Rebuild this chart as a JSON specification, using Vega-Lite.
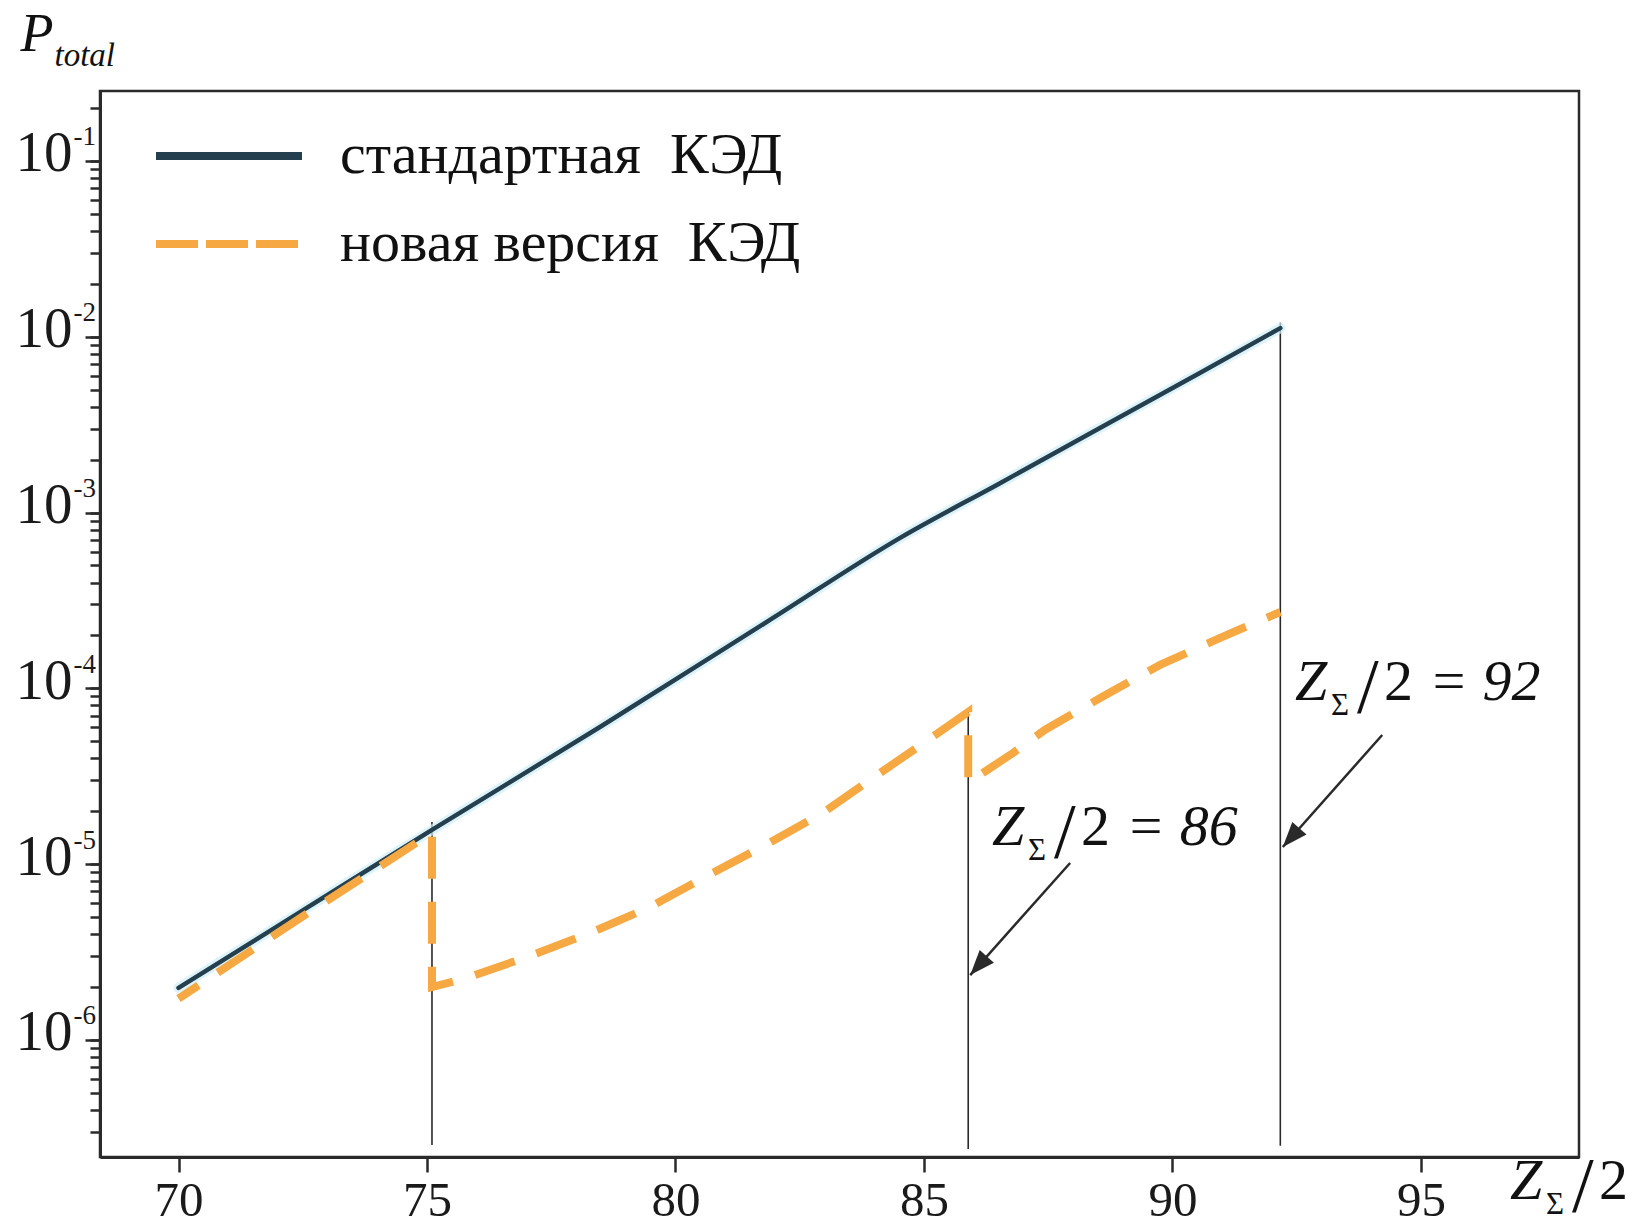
{
  "$schema": "https://vega.github.io/schema/vega-lite/v6.json",
  "width": 1479,
  "height": 1066,
  "autosize": "none",
  "padding": {"left": 100, "top": 91, "right": 54, "bottom": 75},
  "background": "white",
  "config": {
    "view": {"stroke": "#2a2a2a", "strokeWidth": 2.5},
    "font": "Liberation Serif"
  },
  "resolve": {"axis": {"y": "independent"}},
  "datasets": {
    "curves": [
      {"s": "стандартная КЭД", "i": 0, "x": 70.0, "y": 1.98e-6},
      {"s": "стандартная КЭД", "i": 1, "x": 72.5, "y": 5.46e-6},
      {"s": "стандартная КЭД", "i": 2, "x": 75.1, "y": 1.566e-5},
      {"s": "стандартная КЭД", "i": 3, "x": 78.48, "y": 6.03e-5},
      {"s": "стандартная КЭД", "i": 4, "x": 81.9, "y": 2.45e-4},
      {"s": "стандартная КЭД", "i": 5, "x": 84.52, "y": 7.18e-4},
      {"s": "стандартная КЭД", "i": 6, "x": 86.53, "y": 1.47e-3},
      {"s": "стандартная КЭД", "i": 7, "x": 88.54, "y": 3.03e-3},
      {"s": "стандартная КЭД", "i": 8, "x": 90.55, "y": 6.22e-3},
      {"s": "стандартная КЭД", "i": 9, "x": 92.17, "y": 1.12e-2},
      {"s": "новая версия КЭД", "i": 0, "x": 70.0, "y": 1.72e-6},
      {"s": "новая версия КЭД", "i": 1, "x": 72.5, "y": 5.05e-6},
      {"s": "новая версия КЭД", "i": 2, "x": 75.1, "y": 1.51e-5},
      {"s": "новая версия КЭД", "i": 3, "x": 75.1, "y": 2.0e-6},
      {"s": "новая версия КЭД", "i": 4, "x": 75.79, "y": 2.25e-6},
      {"s": "новая версия КЭД", "i": 5, "x": 77.02, "y": 2.97e-6},
      {"s": "новая версия КЭД", "i": 6, "x": 78.28, "y": 4.06e-6},
      {"s": "новая версия КЭД", "i": 7, "x": 79.49, "y": 5.71e-6},
      {"s": "новая версия КЭД", "i": 8, "x": 80.67, "y": 8.69e-6},
      {"s": "новая версия КЭД", "i": 9, "x": 81.82, "y": 1.29e-5},
      {"s": "новая версия КЭД", "i": 10, "x": 82.99, "y": 1.98e-5},
      {"s": "новая версия КЭД", "i": 11, "x": 84.06, "y": 3.22e-5},
      {"s": "новая версия КЭД", "i": 12, "x": 85.14, "y": 5.22e-5},
      {"s": "новая версия КЭД", "i": 13, "x": 85.89, "y": 7.35e-5},
      {"s": "новая версия КЭД", "i": 14, "x": 85.89, "y": 2.9e-5},
      {"s": "новая версия КЭД", "i": 15, "x": 86.33, "y": 3.52e-5},
      {"s": "новая версия КЭД", "i": 16, "x": 86.79, "y": 4.29e-5},
      {"s": "новая версия КЭД", "i": 17, "x": 87.43, "y": 5.8e-5},
      {"s": "новая версия КЭД", "i": 18, "x": 88.58, "y": 8.93e-5},
      {"s": "новая версия КЭД", "i": 19, "x": 89.75, "y": 1.36e-4},
      {"s": "новая версия КЭД", "i": 20, "x": 90.96, "y": 1.94e-4},
      {"s": "новая версия КЭД", "i": 21, "x": 92.17, "y": 2.72e-4}
    ],
    "vlines": [
      {"x": 75.1, "y": 1.74e-5, "y2": 2.53e-7},
      {"x": 85.89, "y": 7.74e-5, "y2": 2.4e-7},
      {"x": 92.17, "y": 1.2e-2, "y2": 2.5e-7}
    ],
    "arrows": [
      {"x": 94.22, "y": 5.43e-5, "x2": 92.22, "y2": 1.253e-5},
      {"x": 87.94, "y": 1.016e-5, "x2": 85.93, "y2": 2.34e-6}
    ],
    "notes": [
      {"x": 92.465, "y": 8.59e-5, "eq": "= 92"},
      {"x": 86.37, "y": 1.285e-5, "eq": "= 86"},
      {"x": 96.79, "y": 1.25e-7, "eq": ""}
    ]
  },
  "encoding": {
    "x": {
      "field": "x",
      "type": "quantitative",
      "scale": {"domain": [68.42, 98.18], "nice": false, "zero": false},
      "axis": {
        "title": null,
        "grid": false,
        "values": [70, 75, 80, 85, 90, 95],
        "labelFont": "Liberation Serif",
        "labelFontSize": 49,
        "labelColor": "#1a1a1a",
        "labelPadding": 4,
        "tickSize": 15,
        "tickWidth": 2.5,
        "tickColor": "#2a2a2a",
        "domainColor": "#2a2a2a",
        "domainWidth": 3,
        "labelFlush": false,
        "labelOverlap": false
      }
    },
    "y": {
      "field": "y",
      "type": "quantitative",
      "scale": {"type": "log", "domain": [2.16e-7, 0.25], "nice": false},
      "axis": null
    }
  },
  "layer": [
    {
      "data": {"name": "vlines"},
      "mark": {"type": "rule", "color": "#2a2a2a", "strokeWidth": 1.6},
      "encoding": {
        "y": {
          "field": "y",
          "type": "quantitative",
          "scale": {"type": "log", "domain": [2.16e-7, 0.25], "nice": false},
          "axis": {
            "orient": "left",
            "title": "total",
            "titleFont": "Liberation Serif",
            "titleFontStyle": "italic",
            "titleFontWeight": "normal",
            "titleFontSize": 33,
            "titleColor": "#111111",
            "titleAngle": 0,
            "titleAlign": "left",
            "titleBaseline": "alphabetic",
            "titleX": -46,
            "titleY": -26,
            "grid": false,
            "domain": false,
            "values": [1e-1, 1e-2, 1e-3, 1e-4, 1e-5, 1e-6],
            "labelExpr": "'-' + round(-log(datum.value)/LN10)",
            "labelFont": "Liberation Serif",
            "labelFontSize": 27,
            "labelColor": "#1a1a1a",
            "labelAlign": "left",
            "labelBaseline": "middle",
            "labelPadding": 12,
            "labelOffset": -24,
            "labelOverlap": false,
            "labelFlush": false,
            "tickSize": 15,
            "tickWidth": 2.5,
            "tickColor": "#2a2a2a"
          }
        },
        "y2": {"field": "y2"}
      }
    },
    {
      "data": {"name": "curves"},
      "transform": [{"filter": "datum.s === 'стандартная КЭД'"}],
      "mark": {"type": "line", "color": "#cdeef6", "strokeWidth": 10, "opacity": 0.7, "strokeCap": "round", "interpolate": "monotone"},
      "encoding": {"order": {"field": "i", "type": "quantitative"}}
    },
    {
      "data": {"name": "curves"},
      "transform": [{"filter": "datum.s === 'стандартная КЭД'"}],
      "mark": {"type": "line", "strokeWidth": 4.5, "strokeCap": "round", "interpolate": "monotone"},
      "encoding": {
        "y": {
          "field": "y",
          "type": "quantitative",
          "scale": {"type": "log", "domain": [2.16e-7, 0.25], "nice": false},
          "axis": {
            "orient": "left",
            "title": "P",
            "titleFont": "Liberation Serif",
            "titleFontStyle": "italic",
            "titleFontWeight": "normal",
            "titleFontSize": 54,
            "titleColor": "#111111",
            "titleAngle": 0,
            "titleAlign": "left",
            "titleBaseline": "alphabetic",
            "titleX": -80,
            "titleY": -41,
            "grid": false,
            "values": [3e-7, 4e-7, 5e-7, 6e-7, 7e-7, 8e-7, 9e-7,
              1e-6, 2e-6, 3e-6, 4e-6, 5e-6, 6e-6, 7e-6, 8e-6, 9e-6,
              1e-5, 2e-5, 3e-5, 4e-5, 5e-5, 6e-5, 7e-5, 8e-5, 9e-5,
              1e-4, 2e-4, 3e-4, 4e-4, 5e-4, 6e-4, 7e-4, 8e-4, 9e-4,
              1e-3, 2e-3, 3e-3, 4e-3, 5e-3, 6e-3, 7e-3, 8e-3, 9e-3,
              1e-2, 2e-2, 3e-2, 4e-2, 5e-2, 6e-2, 7e-2, 8e-2, 9e-2,
              1e-1, 2e-1],
            "labelExpr": "abs(log(datum.value)/LN10 - round(log(datum.value)/LN10)) < 0.01 ? '10' : ''",
            "labelFont": "Liberation Serif",
            "labelFontSize": 57,
            "labelColor": "#1a1a1a",
            "labelPadding": 18,
            "labelOffset": -7,
            "labelOverlap": false,
            "labelFlush": false,
            "tickSize": 10,
            "tickWidth": 2.5,
            "tickColor": "#2a2a2a",
            "domainColor": "#2a2a2a",
            "domainWidth": 3
          }
        },
        "order": {"field": "i", "type": "quantitative"},
        "color": {
          "field": "s",
          "type": "nominal",
          "scale": {"domain": ["стандартная КЭД", "новая версия КЭД"], "range": ["#263f4e", "#f6a843"]},
          "legend": {
            "title": null,
            "orient": "none",
            "legendX": 52,
            "legendY": 35,
            "direction": "vertical",
            "padding": 0,
            "symbolType": "stroke",
            "symbolSize": 21316,
            "symbolStrokeWidth": 8,
            "clipHeight": 60,
            "rowPadding": 28,
            "labelFont": "Liberation Serif",
            "labelFontSize": 58,
            "labelColor": "#111111",
            "labelOffset": 34,
            "labelLimit": 0,
            "labelExpr": "datum.value === 'стандартная КЭД' ? 'стандартная\u00a0 КЭД' : 'новая версия\u00a0 КЭД'",
            "encode": {
              "symbols": {
                "update": {
                  "strokeDash": {"signal": "datum.value === 'новая версия КЭД' ? [42, 8] : [1, 0]"},
                  "strokeWidth": {"value": 8}
                }
              }
            }
          }
        }
      }
    },
    {
      "data": {"name": "curves"},
      "transform": [{"filter": "datum.s === 'новая версия КЭД'"}],
      "mark": {"type": "line", "strokeWidth": 8, "strokeDash": [42, 23], "strokeDashOffset": 18},
      "encoding": {
        "order": {"field": "i", "type": "quantitative"},
        "color": {"field": "s", "type": "nominal"}
      }
    },
    {
      "data": {"name": "arrows"},
      "mark": {"type": "rule", "color": "#2a2a2a", "strokeWidth": 2.5},
      "encoding": {"x2": {"field": "x2"}, "y2": {"field": "y2"}}
    },
    {
      "data": {"name": "arrows"},
      "mark": {"type": "point", "shape": "M0,0L-0.38,1L0.38,1Z", "size": 2500, "angle": 221.6, "filled": true, "fill": "#2a2a2a", "opacity": 1, "strokeWidth": 0},
      "encoding": {
        "x": {"field": "x2", "type": "quantitative"},
        "y": {"field": "y2", "type": "quantitative", "axis": null}
      }
    },
    {
      "data": {"name": "notes"},
      "mark": {"type": "text", "text": "Z", "font": "Liberation Serif", "fontStyle": "italic", "fontSize": 58, "align": "left", "baseline": "alphabetic", "color": "#111111"}
    },
    {
      "data": {"name": "notes"},
      "mark": {"type": "text", "text": "Σ", "font": "Liberation Serif", "fontSize": 31, "align": "left", "baseline": "alphabetic", "dx": 36, "dy": 15, "color": "#111111"}
    },
    {
      "data": {"name": "notes"},
      "mark": {"type": "text", "text": "/", "font": "Liberation Serif", "fontSize": 78, "align": "left", "baseline": "alphabetic", "dx": 62, "dy": 12, "color": "#111111"}
    },
    {
      "data": {"name": "notes"},
      "mark": {"type": "text", "text": "2", "font": "Liberation Serif", "fontSize": 58, "align": "left", "baseline": "alphabetic", "dx": 89, "color": "#111111"}
    },
    {
      "data": {"name": "notes"},
      "transform": [{"filter": "datum.eq !== ''"}],
      "mark": {"type": "text", "font": "Liberation Serif", "fontStyle": "italic", "fontSize": 58, "align": "left", "baseline": "alphabetic", "dx": 134, "color": "#111111"},
      "encoding": {"text": {"field": "eq"}}
    }
  ]
}
